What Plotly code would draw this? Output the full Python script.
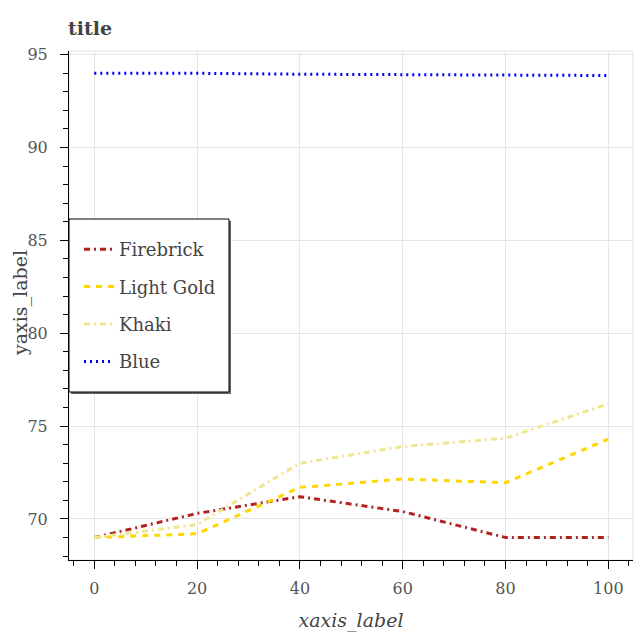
import plotly.graph_objects as go

x_values = [0, 20, 40, 60, 80, 100]
firebrick = [69.0, 70.3, 71.2, 70.4, 69.0, 69.0]
light_gold = [69.0, 69.2, 71.7, 72.15, 71.95, 74.3]
khaki = [69.0, 69.7, 73.0, 73.9, 74.35, 76.2]
blue = [94.0, 94.0, 93.95, 93.92, 93.9, 93.88]

series = [
    ("Firebrick", firebrick, "#B22222", "6px,4px,2px,4px"),
    ("Light Gold", light_gold, "#FFD700", "6px,6px"),
    ("Khaki", khaki, "#F0E68C", "6px,4px,2px,4px"),
    ("Blue", blue, "#0000FF", "2px,4px"),
]

FONT = "DejaVu Serif"
TXT = "#444444"
TICK_TXT = "#555555"
# plot area in pixels
L, R, T, B = 69, 633, 51, 560
PW, PH = R - L, B - T

def px_x(p):
    return (p - L) / PW

def px_y(p):
    return (B - p) / PH

fig = go.Figure()
for i, (name, ys, color, dash) in enumerate(series):
    fig.add_trace(go.Scatter(
        x=x_values, y=ys, mode="lines", name=name, legendgroup=f"g{i}",
        line=dict(color=color, dash=dash, width=3),
    ))

box = dict(x0=px_x(69), x1=px_x(229), y0=px_y(392), y1=px_y(219))
fig.update_layout(
    width=640, height=640,
    margin=dict(l=L, r=640 - R, t=T, b=640 - B, autoexpand=False),
    paper_bgcolor="white", plot_bgcolor="white",
    font=dict(family=FONT, color=TXT),
    title=dict(text="<b>title</b>", x=68/640, xanchor="left", xref="container",
               y=1 - 28/640, yanchor="middle", yref="container", automargin=False,
               font=dict(family=FONT, size=19, color=TXT)),
    showlegend=True,
    legend=dict(x=px_x(79), y=px_y(231), xanchor="left", yanchor="top",
                bgcolor="rgba(0,0,0,0)", borderwidth=0,
                font=dict(family=FONT, size=18, color=TXT),
                tracegroupgap=11, traceorder="grouped"),
    shapes=[
        dict(type="rect", xref="paper", yref="paper", x0=0, x1=1, y0=0, y1=1,
             line=dict(color="#e5e5e5", width=1), layer="below"),
        dict(type="rect", xref="paper", yref="paper",
             x0=box["x0"] + 2/PW, x1=box["x1"] + 2/PW, y0=box["y0"] - 2/PH, y1=box["y1"] - 2/PH,
             line=dict(width=0), fillcolor="#666666", layer="above"),
        dict(type="rect", xref="paper", yref="paper", **box,
             line=dict(color="black", width=1), fillcolor="white", layer="above"),
    ],
    annotations=[
        dict(text="yaxis_label", xref="paper", yref="paper", x=px_x(20), y=px_y(303),
             xanchor="center", yanchor="middle", textangle=-90, showarrow=False,
             font=dict(family=FONT, size=19, color=TXT)),
    ],
)
fig.update_xaxes(
    range=[-4.92, 104.8], tickmode="linear", tick0=0, dtick=20, automargin=False,
    showgrid=True, gridcolor="#e5e5e5", zeroline=False,
    showline=True, linecolor="black", linewidth=1,
    ticks="outside", ticklen=8, tickcolor="black", ticklabelstandoff=6,
    minor=dict(ticks="outside", ticklen=5, dtick=4, tick0=0, tickcolor="black", showgrid=False),
    tickfont=dict(family=FONT, size=16, color=TICK_TXT),
    title=dict(text="<i>xaxis_label</i>", font=dict(family=FONT, size=19, color=TXT), standoff=16),
)
fig.update_yaxes(
    range=[67.79, 95.2], tickmode="linear", tick0=70, dtick=5, automargin=False,
    showgrid=True, gridcolor="#e5e5e5", zeroline=False,
    showline=True, linecolor="black", linewidth=1,
    ticks="outside", ticklen=8, tickcolor="black", ticklabelstandoff=9,
    minor=dict(ticks="outside", ticklen=5, dtick=1, tick0=70, tickcolor="black", showgrid=False),
    tickfont=dict(family=FONT, size=16, color=TICK_TXT),
)
fig.write_html("out.html", config={"displayModeBar": False},
               post_script="document.body.style.margin='0px';")
